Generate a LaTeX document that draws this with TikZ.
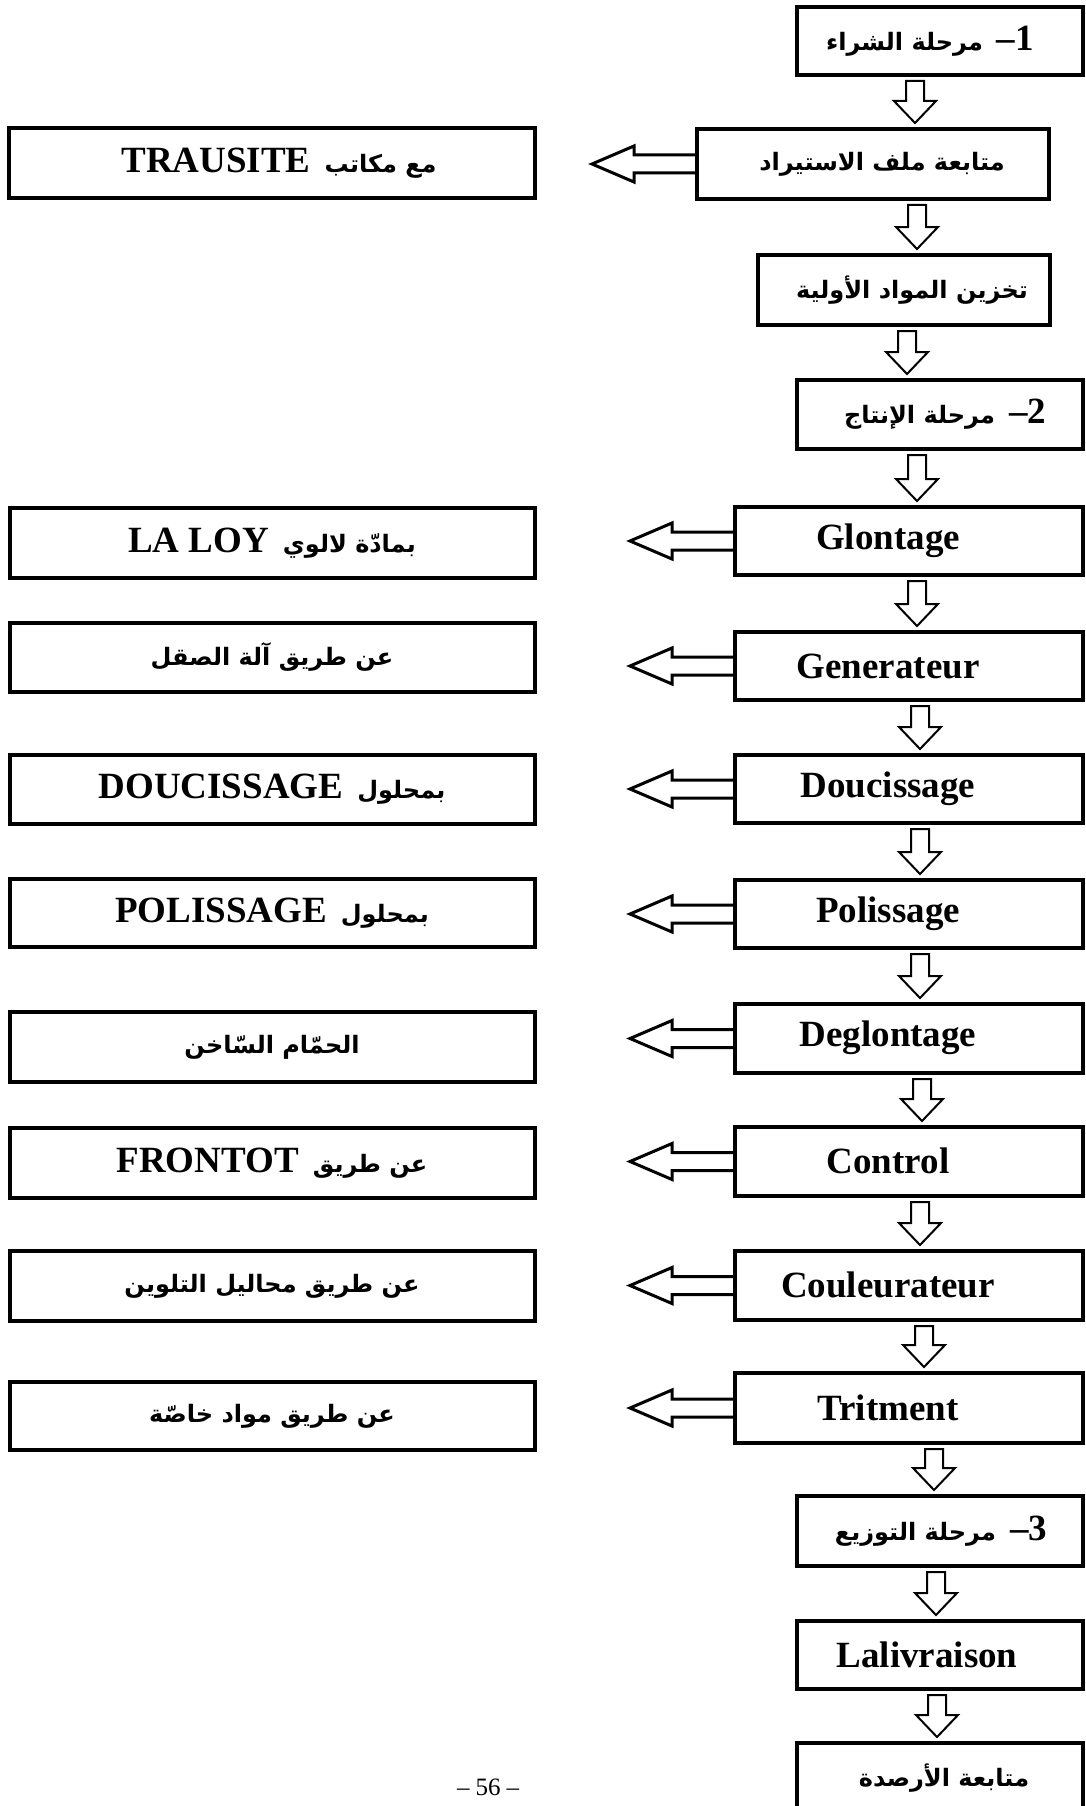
\documentclass[tikz,border=0pt]{standalone}
\usepackage{fontspec}
\setmainfont{Liberation Serif}
\newfontfamily\arabicfont[Script=Arabic]{DejaVu Sans}
\TeXXeTstate=1
\usetikzlibrary{calc}
\newcommand\artxt[1]{{\arabicfont\bfseries\fontsize{24}{30}\selectfont\beginR #1\endR}}
\newcommand\lattxt[1]{{\bfseries\fontsize{37}{40}\selectfont #1}}
\newcommand\gap{\hspace{14pt}}
\newcommand\mkbox[5]{\node[box, minimum width={(#4-#2)*1pt}, minimum height={(#5-#3)*1pt}] (#1) at ({(#2+#4)/2},{(#3+#5)/2}) {};}
\newcommand\varr[3]{\draw[darr] let \p1=(#1.south), \p2=(#2.north) in
  ({#3pt-9pt},{\y1-6pt}) -- ({#3pt-9pt},{\y2+28pt}) -- ({#3pt-21pt},{\y2+28pt}) -- ({#3pt},{\y2+6pt})
  -- ({#3pt+21pt},{\y2+28pt}) -- ({#3pt+9pt},{\y2+28pt}) -- ({#3pt+9pt},{\y1-6pt}) -- cycle;}
\newcommand\larr[1]{\draw[larr] let \p1=(#1.west) in
  (\x1,{\y1+9pt}) -- ({\x1-63pt},{\y1+9pt}) -- ({\x1-63pt},{\y1+18pt}) -- ({\x1-105pt},\y1)
  -- ({\x1-63pt},{\y1-18pt}) -- ({\x1-63pt},{\y1-9pt}) -- (\x1,{\y1-9pt});}
\begin{document}
\begin{tikzpicture}[x=1pt,y=-1pt,
  box/.style={draw, line width=3.5pt, inner sep=0pt, outer sep=0pt},
  lbl/.style={inner sep=0pt, anchor=center},
  darr/.style={draw, line width=2pt, line join=miter},
  larr/.style={draw, line width=3pt, line join=miter}]
\useasboundingbox (0,0) rectangle (1086,1806);
\begin{scope}
\clip (0,0) rectangle (1086,1806);
% right column boxes
\mkbox{b1}{797}{7}{1083}{75}
\mkbox{b2}{697}{129}{1049}{199}
\mkbox{b3}{758}{255}{1050}{325}
\mkbox{b4}{797}{380}{1083}{449}
\mkbox{g1}{735}{507}{1083}{575}
\mkbox{g2}{735}{632}{1083}{700}
\mkbox{g3}{735}{755}{1083}{823}
\mkbox{g4}{735}{880}{1083}{948}
\mkbox{g5}{735}{1004}{1083}{1073}
\mkbox{g6}{735}{1127}{1083}{1196}
\mkbox{g7}{735}{1251}{1083}{1320}
\mkbox{g8}{735}{1373}{1083}{1443}
\mkbox{b5}{797}{1496}{1083}{1566}
\mkbox{b6}{797}{1621}{1083}{1689}
\mkbox{b7}{797}{1743}{1083}{1815}
% left column boxes
\mkbox{t1}{9}{128}{535}{198}
\mkbox{l1}{10}{508}{535}{578}
\mkbox{l2}{10}{623}{535}{692}
\mkbox{l3}{10}{755}{535}{824}
\mkbox{l4}{10}{879}{535}{947}
\mkbox{l5}{10}{1012}{535}{1082}
\mkbox{l6}{10}{1128}{535}{1198}
\mkbox{l7}{10}{1251}{535}{1321}
\mkbox{l8}{10}{1382}{535}{1450}
% texts right column
\node[lbl] (b1t) at (930,41) {\artxt{مرحلة الشراء}\gap\lattxt{–1}};
\node[lbl] (b2t) at (882,164) {\artxt{متابعة ملف الاستيراد}};
\node[lbl] (b3t) at (912,290) {\artxt{تخزين المواد الأولية}};
\node[lbl] (b4t) at (945,414) {\artxt{مرحلة الإنتاج}\gap\lattxt{–2}};
\node[lbl] (g1t) at (888,541) {\lattxt{Glontage}};
\node[lbl] (g2t) at (888,666) {\lattxt{Generateur}};
\node[lbl] (g3t) at (888,789) {\lattxt{Doucissage}};
\node[lbl] (g4t) at (888,914) {\lattxt{Polissage}};
\node[lbl] (g5t) at (888,1038) {\lattxt{Deglontage}};
\node[lbl] (g6t) at (888,1161) {\lattxt{Control}};
\node[lbl] (g7t) at (888,1285) {\lattxt{Couleurateur}};
\node[lbl] (g8t) at (888,1408) {\lattxt{Tritment}};
\node[lbl] (b5t) at (941,1531) {\artxt{مرحلة التوزيع}\gap\lattxt{–3}};
\node[lbl] (b6t) at (927,1655) {\lattxt{Lalivraison}};
\node[lbl] (b7t) at (944,1778) {\artxt{متابعة الأرصدة}};
% texts left column
\node[lbl] (t1t) at (279,163) {\lattxt{TRAUSITE}\gap\artxt{مع مكاتب}};
\node[lbl] (l1t) at (272,543) {\lattxt{LA LOY}\gap\artxt{بمادّة لالوي}};
\node[lbl] (l2t) at (272,657) {\artxt{عن طريق آلة الصقل}};
\node[lbl] (l3t) at (272,789) {\lattxt{DOUCISSAGE}\gap\artxt{بمحلول}};
\node[lbl] (l4t) at (272,913) {\lattxt{POLISSAGE}\gap\artxt{بمحلول}};
\node[lbl] (l5t) at (272,1047) {\artxt{الحمّام السّاخن}};
\node[lbl] (l6t) at (272,1163) {\lattxt{FRONTOT}\gap\artxt{عن طريق}};
\node[lbl] (l7t) at (272,1286) {\artxt{عن طريق محاليل التلوين}};
\node[lbl] (l8t) at (272,1416) {\artxt{عن طريق مواد خاصّة}};
% down arrows
\varr{b1}{b2}{915}
\varr{b2}{b3}{917}
\varr{b3}{b4}{907}
\varr{b4}{g1}{917}
\varr{g1}{g2}{917}
\varr{g2}{g3}{920}
\varr{g3}{g4}{920}
\varr{g4}{g5}{920}
\varr{g5}{g6}{922}
\varr{g6}{g7}{920}
\varr{g7}{g8}{924}
\varr{g8}{b5}{934}
\varr{b5}{b6}{936}
\varr{b6}{b7}{937}
% left arrows
\larr{b2}
\larr{g1}
\larr{g2}
\larr{g3}
\larr{g4}
\larr{g5}
\larr{g6}
\larr{g7}
\larr{g8}
% page number
\node[lbl] (pg) at (488,1787) {\fontsize{25}{28}\selectfont –\hspace{6pt}56\hspace{6pt}–};
\end{scope}
\end{tikzpicture}
\end{document}
